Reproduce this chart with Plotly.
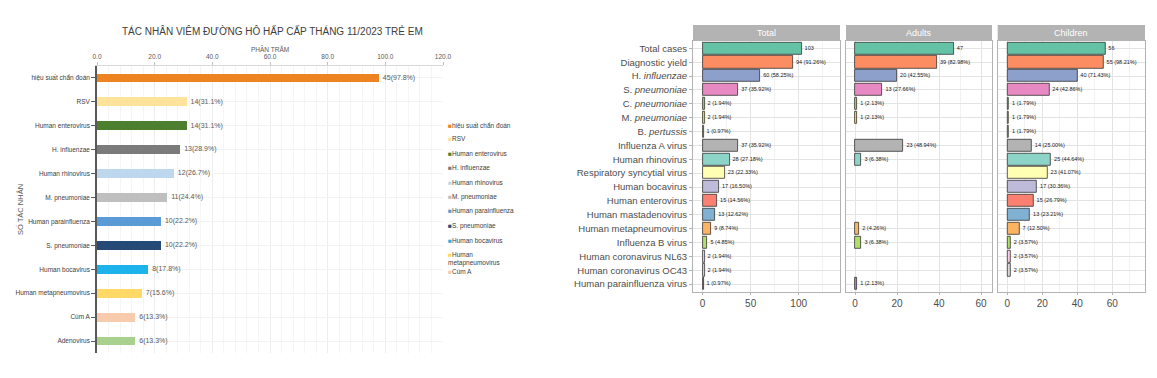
import plotly.graph_objects as go

W, H = 1157, 378

def px(x):
    return x / W

def py(y):
    return 1 - y / H

# ---------------- Left chart data ----------------
left_title = "TÁC NHÂN VIÊM ĐƯỜNG HÔ HẤP CẤP THÁNG 11/2023 TRẺ EM"
left_categories = ["hiệu suất chẩn đoán", "RSV", "Human enterovirus", "H. influenzae",
                   "Human rhinovirus", "M. pneumoniae", "Human parainfluenza", "S. pneumoniae",
                   "Human bocavirus", "Human metapneumovirus", "Cúm A", "Adenovirus"]
left_counts = [45, 14, 14, 13, 12, 11, 10, 10, 8, 7, 6, 6]
left_percent = [97.8, 31.1, 31.1, 28.9, 26.7, 24.4, 22.2, 22.2, 17.8, 15.6, 13.3, 13.3]
left_colors = ["#EE8322", "#FFE39A", "#4C7F2E", "#7B7B7B", "#BDD7EE", "#BFBFBF",
               "#5B9BD5", "#254A75", "#1CB2EC", "#FFD966", "#F8CBAD", "#A9D18E"]
left_xticks = [0, 20, 40, 60, 80, 100, 120]
legend_count = 11  # legend in the reference is cut off after "Cúm A"

# ---------------- Right chart data ----------------
right_categories = ["Total cases", "Diagnostic yield", "H. influenzae", "S. pneumoniae",
                    "C. pneumoniae", "M. pneumoniae", "B. pertussis", "Influenza A virus",
                    "Human rhinovirus", "Respiratory syncytial virus", "Human bocavirus",
                    "Human enterovirus", "Human mastadenovirus", "Human metapneumovirus",
                    "Influenza B virus", "Human coronavirus NL63", "Human coronavirus OC43",
                    "Human parainfluenza virus"]
right_ticktext = ["Total cases", "Diagnostic yield", "H. <i>influenzae</i>", "S. <i>pneumoniae</i>",
                  "C. <i>pneumoniae</i>", "M. <i>pneumoniae</i>", "B. <i>pertussis</i>",
                  "Influenza A virus", "Human rhinovirus", "Respiratory syncytial virus",
                  "Human bocavirus", "Human enterovirus", "Human mastadenovirus",
                  "Human metapneumovirus", "Influenza B virus", "Human coronavirus NL63",
                  "Human coronavirus OC43", "Human parainfluenza virus"]
right_colors = ["#66C2A5", "#FC8D62", "#8DA0CB", "#E78AC3", "#A6D854", "#FFD92F", "#E5C494",
                "#B3B3B3", "#8DD3C7", "#FFFFB3", "#BEBADA", "#FB8072", "#80B1D3", "#FDB462",
                "#B3DE69", "#FCCDE5", "#D9D9D9", "#BC80BD"]
panels = ["Total", "Adults", "Children"]
total_n = [103, 94, 60, 37, 2, 2, 1, 37, 28, 23, 17, 15, 13, 9, 5, 2, 2, 1]
total_lbl = ["103", "94 (91.26%)", "60 (58.25%)", "37 (35.92%)", "2 (1.94%)", "2 (1.94%)",
             "1 (0.97%)", "37 (35.92%)", "28 (27.18%)", "23 (22.33%)", "17 (16.50%)",
             "15 (14.56%)", "13 (12.62%)", "9 (8.74%)", "5 (4.85%)", "2 (1.94%)",
             "2 (1.94%)", "1 (0.97%)"]
adult_n = [47, 39, 20, 13, 1, 1, None, 23, 3, None, None, None, None, 2, 3, None, None, 1]
adult_lbl = ["47", "39 (82.98%)", "20 (42.55%)", "13 (27.66%)", "1 (2.13%)", "1 (2.13%)",
             None, "23 (48.94%)", "3 (6.38%)", None, None, None, None, "2 (4.26%)",
             "3 (6.38%)", None, None, "1 (2.13%)"]
child_n = [56, 55, 40, 24, 1, 1, 1, 14, 25, 23, 17, 15, 13, 7, 2, 2, 2, None]
child_lbl = ["56", "55 (98.21%)", "40 (71.43%)", "24 (42.86%)", "1 (1.79%)", "1 (1.79%)",
             "1 (1.79%)", "14 (25.00%)", "25 (44.64%)", "23 (41.07%)", "17 (30.36%)",
             "15 (26.79%)", "13 (23.21%)", "7 (12.50%)", "2 (3.57%)", "2 (3.57%)",
             "2 (3.57%)", None]
panel_values = [total_n, adult_n, child_n]
panel_labels = [total_lbl, adult_lbl, child_lbl]
panel_ranges = [[-10, 143], [-4.3, 65.2], [-5.5, 78.7]]
panel_ticks = [[0, 50, 100], [0, 20, 40, 60], [0, 20, 40, 60]]
panel_dom = [(693, 840), (846, 992), (997.7, 1145)]

FONT = "Liberation Sans, Arial, sans-serif"
fig = go.Figure()

# ---------- Left chart ----------
fig.add_trace(go.Bar(
    x=left_percent, y=left_categories, orientation="h",
    marker=dict(color=left_colors, line=dict(width=0)), width=0.37,
    xaxis="x", yaxis="y", showlegend=False, hoverinfo="skip"))
fig.add_trace(go.Scatter(
    x=left_percent, y=left_categories, mode="text",
    text=[f"  {c}({p}%)" for c, p in zip(left_counts, left_percent)],
    textposition="middle right", textfont=dict(size=7, color="#595959", family=FONT),
    xaxis="x", yaxis="y", showlegend=False, hoverinfo="skip", cliponaxis=False))

# ---------- Right chart ----------
for i, (vals, lbls) in enumerate(zip(panel_values, panel_labels)):
    ax = str(i + 2)
    cats = [c for c, v in zip(right_categories, vals) if v is not None]
    cols = [c for c, v in zip(right_colors, vals) if v is not None]
    vv = [v for v in vals if v is not None]
    ll = ["  " + l for l, v in zip(lbls, vals) if v is not None]
    fig.add_trace(go.Bar(
        x=vv, y=cats, orientation="h", width=0.87,
        marker=dict(color=cols, line=dict(color="#333333", width=0.8)),
        xaxis="x" + ax, yaxis="y" + ax, showlegend=False, hoverinfo="skip"))
    fig.add_trace(go.Scatter(
        x=vv, y=cats, mode="text", text=ll, textposition="middle right",
        textfont=dict(size=5.5, color="#1a1a1a", family=FONT),
        xaxis="x" + ax, yaxis="y" + ax, showlegend=False, hoverinfo="skip", cliponaxis=False))

layout = dict(
    width=W, height=H, autosize=False,
    margin=dict(l=0, r=0, t=0, b=0, autoexpand=False),
    paper_bgcolor="white", plot_bgcolor="white",
    font=dict(family=FONT, color="#404040"),
    bargap=0,
    xaxis=dict(domain=[px(97), px(443)], range=[0, 120], side="top", anchor="y",
               tickvals=left_xticks, ticktext=[f"{t:.1f}" for t in left_xticks],
               tickfont=dict(size=6.5, color="#595959"), ticks="outside", ticklen=3,
               tickcolor="#bfbfbf", showline=True, linecolor="#d9d9d9", linewidth=1,
               showgrid=True, gridcolor="#ededed", gridwidth=1,
               minor=dict(dtick=4, showgrid=True, gridcolor="#f5f5f5", gridwidth=1),
               zeroline=False, fixedrange=True),
    yaxis=dict(domain=[py(353), py(66)], anchor="x", type="category",
               categoryorder="array", categoryarray=left_categories,
               range=[len(left_categories) - 0.5, -0.5],
               tickfont=dict(size=6.5, color="#404040"), ticks="outside", ticklen=4,
               tickcolor="#595959", showline=True, linecolor="#595959", linewidth=1.5,
               showgrid=True, gridcolor="#f3f3f3",
               zeroline=False, fixedrange=True),
)

for i in range(3):
    n = str(i + 2)
    d0, d1 = panel_dom[i]
    layout["xaxis" + n] = dict(
        domain=[px(d0), px(d1)], range=panel_ranges[i], anchor="y" + n,
        tickvals=panel_ticks[i], tickfont=dict(size=10, color="#4d4d4d"),
        ticks="outside", ticklen=2, tickcolor="#b3b3b3",
        showline=True, mirror=True, linecolor="#b3b3b3", linewidth=1,
        showgrid=True, gridcolor="#e3e3e3", gridwidth=0.8,
        minor=dict(dtick=panel_ticks[i][1] / 2, showgrid=True, gridcolor="#f2f2f2", gridwidth=0.6),
        zeroline=False, fixedrange=True)
    layout["yaxis" + n] = dict(
        domain=[py(291.7), py(40.7)], anchor="x" + n, type="category",
        categoryorder="array", categoryarray=right_categories,
        range=[len(right_categories) - 0.45, -0.55],
        tickvals=right_categories, ticktext=right_ticktext,
        showticklabels=(i == 0), tickfont=dict(size=9.5, color="#4d4d4d"),
        ticks="outside" if i == 0 else "", ticklen=3, tickcolor="#b3b3b3",
        showline=True, mirror=True, linecolor="#b3b3b3", linewidth=1,
        showgrid=True, gridcolor="#e3e3e3", gridwidth=0.8,
        zeroline=False, fixedrange=True)

fig.update_layout(**layout)

shapes = []
annotations = []
# facet strips
for i, name in enumerate(panels):
    d0, d1 = panel_dom[i]
    shapes.append(dict(type="rect", xref="paper", yref="paper",
                       x0=px(d0), x1=px(d1), y0=py(40.7), y1=py(25),
                       fillcolor="#b3b3b3", line=dict(width=0), layer="above"))
    annotations.append(dict(text=name, xref="paper", yref="paper",
                            x=px((d0 + d1) / 2), y=py(32.8), showarrow=False,
                            font=dict(size=9, color="white"), xanchor="center", yanchor="middle"))

# left title, x-axis title & y-axis title
annotations.append(dict(text=left_title, xref="paper", yref="paper", x=px(272), y=py(31),
                        showarrow=False, font=dict(size=10, color="#404040"),
                        xanchor="center", yanchor="middle"))
annotations.append(dict(text="PHẦN TRĂM", xref="paper", yref="paper", x=px(270), y=py(48.5),
                        showarrow=False, font=dict(size=6.5, color="#595959"),
                        xanchor="center", yanchor="middle"))
annotations.append(dict(text="SỐ TÁC NHÂN", xref="paper", yref="paper", x=px(20), y=py(210),
                        showarrow=False, textangle=-90, font=dict(size=7.5, color="#595959"),
                        xanchor="center", yanchor="middle"))

# left legend (manual, truncated like the reference)
ly = 124
for name, col in zip(left_categories[:legend_count], left_colors[:legend_count]):
    label = name.replace("Human metapneumovirus", "Human<br>metapneumovirus")
    nlines = label.count("<br>") + 1
    annotations.append(dict(
        text=f"<span style='color:{col}'>■</span>{label}", xref="paper", yref="paper",
        x=px(446), y=py(ly - 5.5), showarrow=False, align="left",
        font=dict(size=6.5, color="#404040"), xanchor="left", yanchor="top"))
    ly += 14.5 + (nlines - 1) * 2.8

fig.update_layout(shapes=shapes, annotations=annotations)
fig.write_html("out.html", config={"displayModeBar": False},
               post_script="document.body.style.margin='0';document.body.style.overflow='hidden';")
